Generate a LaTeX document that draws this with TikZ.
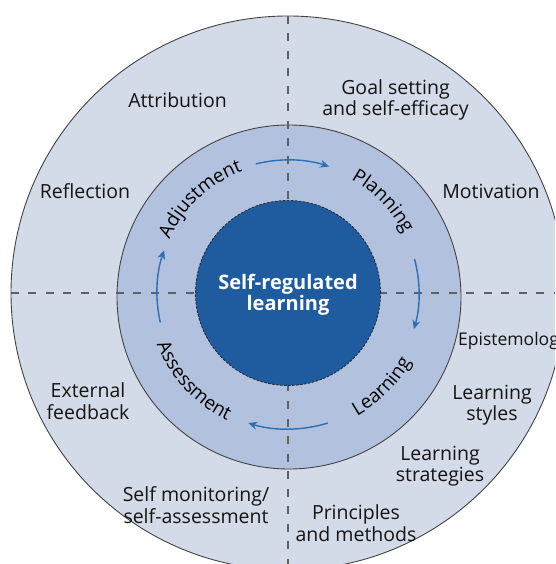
\documentclass[tikz,border=0pt]{standalone}
\usepackage{fontspec}
\setmainfont{Open Sans}
\usetikzlibrary{decorations.text,arrows.meta}
\definecolor{outerfill}{HTML}{D3DBE9}
\definecolor{midfill}{HTML}{B2C2DE}
\definecolor{innerfill}{HTML}{1F5B9F}
\definecolor{arrowblue}{HTML}{2E6EB5}
\definecolor{inktext}{HTML}{141414}
\definecolor{dashgray}{HTML}{606060}
\newcommand{\lblfont}{\fontsize{19.5}{21.5}\selectfont}
\newcommand{\ringfont}{\fontsize{19}{20}\selectfont}
\begin{document}
\begin{tikzpicture}[x=1pt,y=1pt,
  lbl/.style={font=\lblfont, text=inktext, align=center, inner sep=0pt},
  cyclearrow/.style={draw=arrowblue, line width=1.4pt, -{Stealth[length=9pt,width=8pt]}},
  divider/.style={draw=dashgray, line width=1.3pt, dash pattern=on 8pt off 9.5pt}]
\useasboundingbox (-288,-271) rectangle (267,293);
\begin{scope}
\clip (-288,-271) rectangle (267,293);
% rings
\fill[outerfill] (0,0) circle[radius=277];
\draw[inktext!80, line width=0.9pt] (0,0) circle[radius=277];
\fill[midfill] (1,-4) circle[radius=172];
\draw[inktext!80, line width=0.9pt] (1,-4) circle[radius=172];
% dividers
\coordinate (vtop) at (0,277);
\coordinate (vbot) at (0,-277);
\coordinate (hleft) at (-277,0);
\coordinate (hright) at (277,0);
\draw[divider] (vtop) -- (vbot);
\draw[divider] (hleft) -- (hright);
% inner circle
\node[circle, minimum size=185pt, fill=innerfill, draw=black!85, line width=0.8pt, dash pattern=on 2.5pt off 1.5pt, inner sep=0pt] (core) at (0,0) {};
\node[font=\bfseries\fontsize{20}{21}\selectfont, text=white, align=center, inner sep=0pt] (coretext) at (0,-2) {Self-regulated\\learning};
% ring labels
\path[decorate, decoration={text along path, text align=center, text={|\ringfont|Adjustment}}]
  (178:130) arc[start angle=178, end angle=88, radius=130];
\path[decorate, decoration={text along path, text align=center, text={|\ringfont|Planning}}]
  (90:130) arc[start angle=90, end angle=-2, radius=130];
\path[decorate, decoration={text along path, text align=center, text={|\ringfont|Learning}}]
  (-90:141) arc[start angle=-90, end angle=0, radius=141];
\path[decorate, decoration={text along path, text align=center, text={|\ringfont|Assessment}}]
  (178:141) arc[start angle=178, end angle=268, radius=141];
% cycle arrows
\draw[cyclearrow] (104:133) arc[start angle=104, end angle=72, radius=133];
\draw[cyclearrow] (15:131) arc[start angle=15, end angle=-16, radius=131];
\draw[cyclearrow] (-73:136) arc[start angle=-73, end angle=-107, radius=136];
\draw[cyclearrow] (193:131) arc[start angle=193, end angle=161, radius=131];
% outer labels
\node[lbl] (attr) at (-110.5,193) {Attribution};
\node[lbl] (goal) at (107.5,193) {Goal setting\\and self-efficacy};
\node[lbl] (refl) at (-203,102) {Reflection};
\node[lbl] (moti) at (203,102) {Motivation};
\node[lbl, anchor=west, font=\fontsize{17.5}{20}\selectfont] (epis) at (170,-48) {Epistemology};
\node[lbl] (lsty) at (204,-112) {Learning\\styles};
\node[lbl] (lstr) at (152,-173) {Learning\\strategies};
\node[lbl] (prin) at (68,-230) {Principles\\and methods};
\node[lbl] (smon) at (-92,-212) {Self monitoring/\\self-assessment};
\node[lbl] (extf) at (-200,-108) {External\\feedback};
\end{scope}
\end{tikzpicture}
\end{document}
